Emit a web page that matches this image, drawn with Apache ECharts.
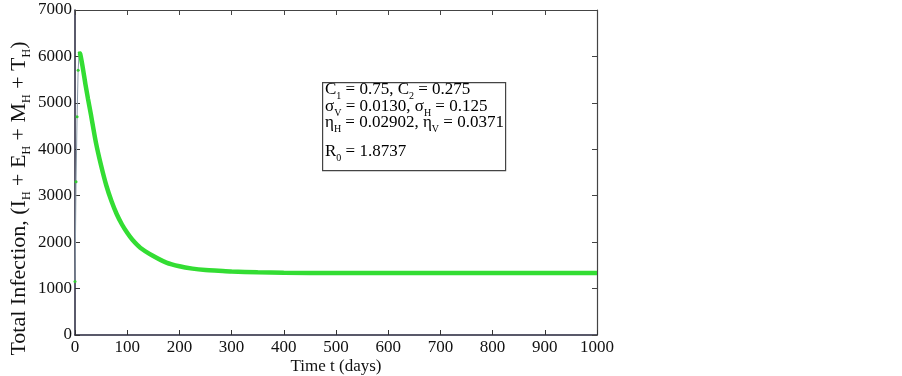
<!DOCTYPE html>
<html><head><meta charset="utf-8">
<script src="https://cdn.jsdelivr.net/npm/echarts@6/dist/echarts.min.js"></script>
<style>html,body{margin:0;padding:0;background:#fff}#c{width:902px;height:376px}</style>
</head><body><div id="c"></div>
<script>
// Rising phase (t in days, total infection)
const riseT = [0, 2, 4, 6, 8];
const riseV = [1150, 3300, 4700, 5700, 6080];
// Decay phase
const decayT = [8, 10, 15, 20, 25, 30, 40, 50, 60, 70, 80, 90, 100, 110, 125, 150, 175, 200, 225, 250, 275, 300, 350, 400, 500, 600, 700, 800, 900, 1000];
const decayV = [6080, 6050, 5750, 5400, 5080, 4780, 4150, 3650, 3220, 2880, 2600, 2380, 2200, 2050, 1880, 1700, 1560, 1480, 1430, 1400, 1385, 1370, 1350, 1340, 1335, 1335, 1335, 1335, 1335, 1335];
const xTicks = [0, 100, 200, 300, 400, 500, 600, 700, 800, 900, 1000];
const yTicks = [0, 1000, 2000, 3000, 4000, 5000, 6000, 7000];
const boxLines = [
  '{n|C}{s|1}{n| = 0.75, C}{s|2}{n| = 0.275}',
  '{n|σ}{s|V}{n| = 0.0130, σ}{s|H}{n| = 0.125}',
  '{n|η}{s|H}{n| = 0.02902, η}{s|V}{n| = 0.0371}',
  '{n|R}{s|0}{n| = 1.8737}'
];
const yName = '{n|Total Infection, (I}{s|H}{n| + E}{s|H}{n| + M}{s|H}{n| + T}{s|H}{n|)}';

const SERIF = '"Liberation Serif", "DejaVu Serif", serif';
const richBox = {
  n: {fontFamily: SERIF, fontSize: 17, color: '#111', lineHeight: 18, verticalAlign: 'top'},
  s: {fontFamily: SERIF, fontSize: 10, color: '#111', lineHeight: 10, verticalAlign: 'top', padding: [10, 0, 0, 0]}
};
const richY = {
  n: {fontFamily: SERIF, fontSize: 22, color: '#111', lineHeight: 23, verticalAlign: 'top'},
  s: {fontFamily: SERIF, fontSize: 12, color: '#111', lineHeight: 12, verticalAlign: 'top', padding: [13, 0, 0, 0]}
};
const lineTops = [81, 98, 114, 143];

const chart = echarts.init(document.getElementById('c'));
const fmt = v => String(v);
chart.setOption({
  animation: false,
  backgroundColor: '#fff',
  grid: {left: 75, right: 305, top: 10, bottom: 41, containLabel: false, outerBoundsMode: 'none'},
  xAxis: [
    {
      type: 'value', splitLine: {show: false},
      min: xTicks[0], max: xTicks[xTicks.length - 1], interval: 100,
      axisLine: {show: true, onZero: false, lineStyle: {color: '#23233a', width: 1.5}},
      axisTick: {inside: true, length: 5, lineStyle: {color: '#333'}},
      axisLabel: {fontFamily: SERIF, fontSize: 17, color: '#111', margin: 4, formatter: fmt},
      name: 'Time t (days)', nameLocation: 'middle', nameGap: 23, nameMoveOverlap: false,
      nameTextStyle: {fontFamily: SERIF, fontSize: 17, color: '#111'}
    },
    {
      type: 'value', splitLine: {show: false},
      position: 'top', min: 0, max: 1000, interval: 100,
      axisLine: {show: true, onZero: false, lineStyle: {color: '#444', width: 1.2}},
      axisTick: {inside: true, length: 5, lineStyle: {color: '#444'}},
      axisLabel: {show: false}
    }
  ],
  yAxis: [
    {
      type: 'value', splitLine: {show: false},
      min: yTicks[0], max: yTicks[yTicks.length - 1], interval: 1000,
      axisLine: {show: true, onZero: false, lineStyle: {color: '#23233a', width: 1.5}},
      axisTick: {inside: true, length: 5, lineStyle: {color: '#333'}},
      axisLabel: {fontFamily: SERIF, fontSize: 17, color: '#111', margin: 3, formatter: fmt},
      name: yName,
      nameLocation: 'middle', nameRotate: 90, nameGap: 44, nameMoveOverlap: false,
      nameTextStyle: {rich: richY, padding: [0, 52, 0, 0]}
    },
    {
      type: 'value', splitLine: {show: false},
      position: 'right', min: 0, max: 7000, interval: 1000,
      axisLine: {show: true, onZero: false, lineStyle: {color: '#444', width: 1.2}},
      axisTick: {inside: true, length: 5, lineStyle: {color: '#444'}},
      axisLabel: {show: false}
    }
  ],
  series: [
    {
      type: 'line', xAxisIndex: 0, yAxisIndex: 0,
      data: riseT.map((t, i) => [t, riseV[i]]),
      lineStyle: {color: '#8a9aa8', width: 1},
      symbol: 'circle', symbolSize: 3, itemStyle: {color: '#33cc33'},
      z: 3
    },
    {
      type: 'line', xAxisIndex: 0, yAxisIndex: 0, smooth: 0.3,
      data: decayT.map((t, i) => [t, decayV[i]]),
      lineStyle: {color: '#33dd33', width: 4.5},
      showSymbol: false, symbol: 'none',
      z: 4
    }
  ],
  graphic: [
    {
      type: 'rect', left: 322, top: 82, z: 10,
      shape: {width: 183, height: 88},
      style: {fill: '#fff', stroke: '#444', lineWidth: 1.2}
    }
  ].concat(boxLines.map((txt, i) => ({
    type: 'text', left: 325, top: lineTops[i], z: 11,
    style: {text: txt, rich: richBox}
  })))
});
</script></body></html>
